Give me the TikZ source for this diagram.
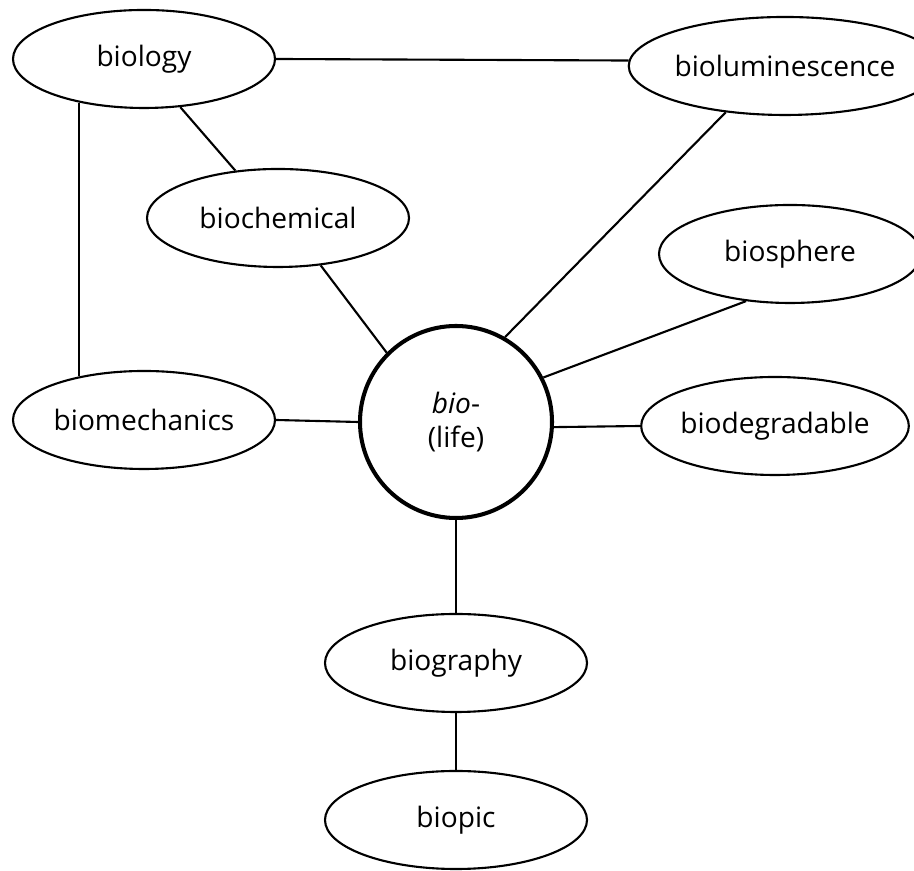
\documentclass[tikz,border=0pt]{standalone}
\usepackage{fontspec}
\setmainfont{Open Sans}
\usetikzlibrary{shapes.geometric}

\begin{document}
\begin{tikzpicture}[
  word/.style={draw,ellipse,line width=1.2pt,inner sep=0pt,minimum width=5.24cm,minimum height=1.96cm,font=\fontsize{16}{19}\selectfont},
  root/.style={draw,circle,line width=2.3pt,inner sep=0pt,minimum size=3.84cm,align=center,font=\fontsize{16}{19}\selectfont},
  link/.style={line width=1.2pt}]
  \useasboundingbox (0,0) rectangle (18.28,17.42);

  \node[root] (bio) at (9.12,8.98) {\textit{bio}-\\(life)};

  \node[word] (biology) at (2.88,16.24) {biology};
  \node[word] (biolum) at (15.70,16.10) {bioluminescence};
  \node[word] (biochem) at (5.56,13.06) {biochemical};
  \node[word] (biosphere) at (15.80,12.34) {biosphere};
  \node[word] (biomech) at (2.88,9.02) {biomechanics};
  \node[word] (biodegr) at (15.50,8.90) {biodegradable};
  \node[word] (biography) at (9.12,4.16) {biography};
  \node[word] (biopic) at (9.12,1.02) {biopic};

  \draw[link] (biology.east) -- (biolum.178);
  \draw[link] (biology.214) -- (biomech.146);
  \draw[link] (biology.307) -- (biochem.132);
  \draw[link] (biochem.312) -- (bio.135);
  \draw[link] (biolum.218) -- (bio.60);
  \draw[link] (biosphere.227) -- (bio.27);
  \draw[link] (biomech.east) -- (bio.west);
  \draw[link] (bio.-3) -- (biodegr.west);
  \draw[link] (bio.south) -- (biography.north);
  \draw[link] (biography.south) -- (biopic.north);
\end{tikzpicture}
\end{document}
